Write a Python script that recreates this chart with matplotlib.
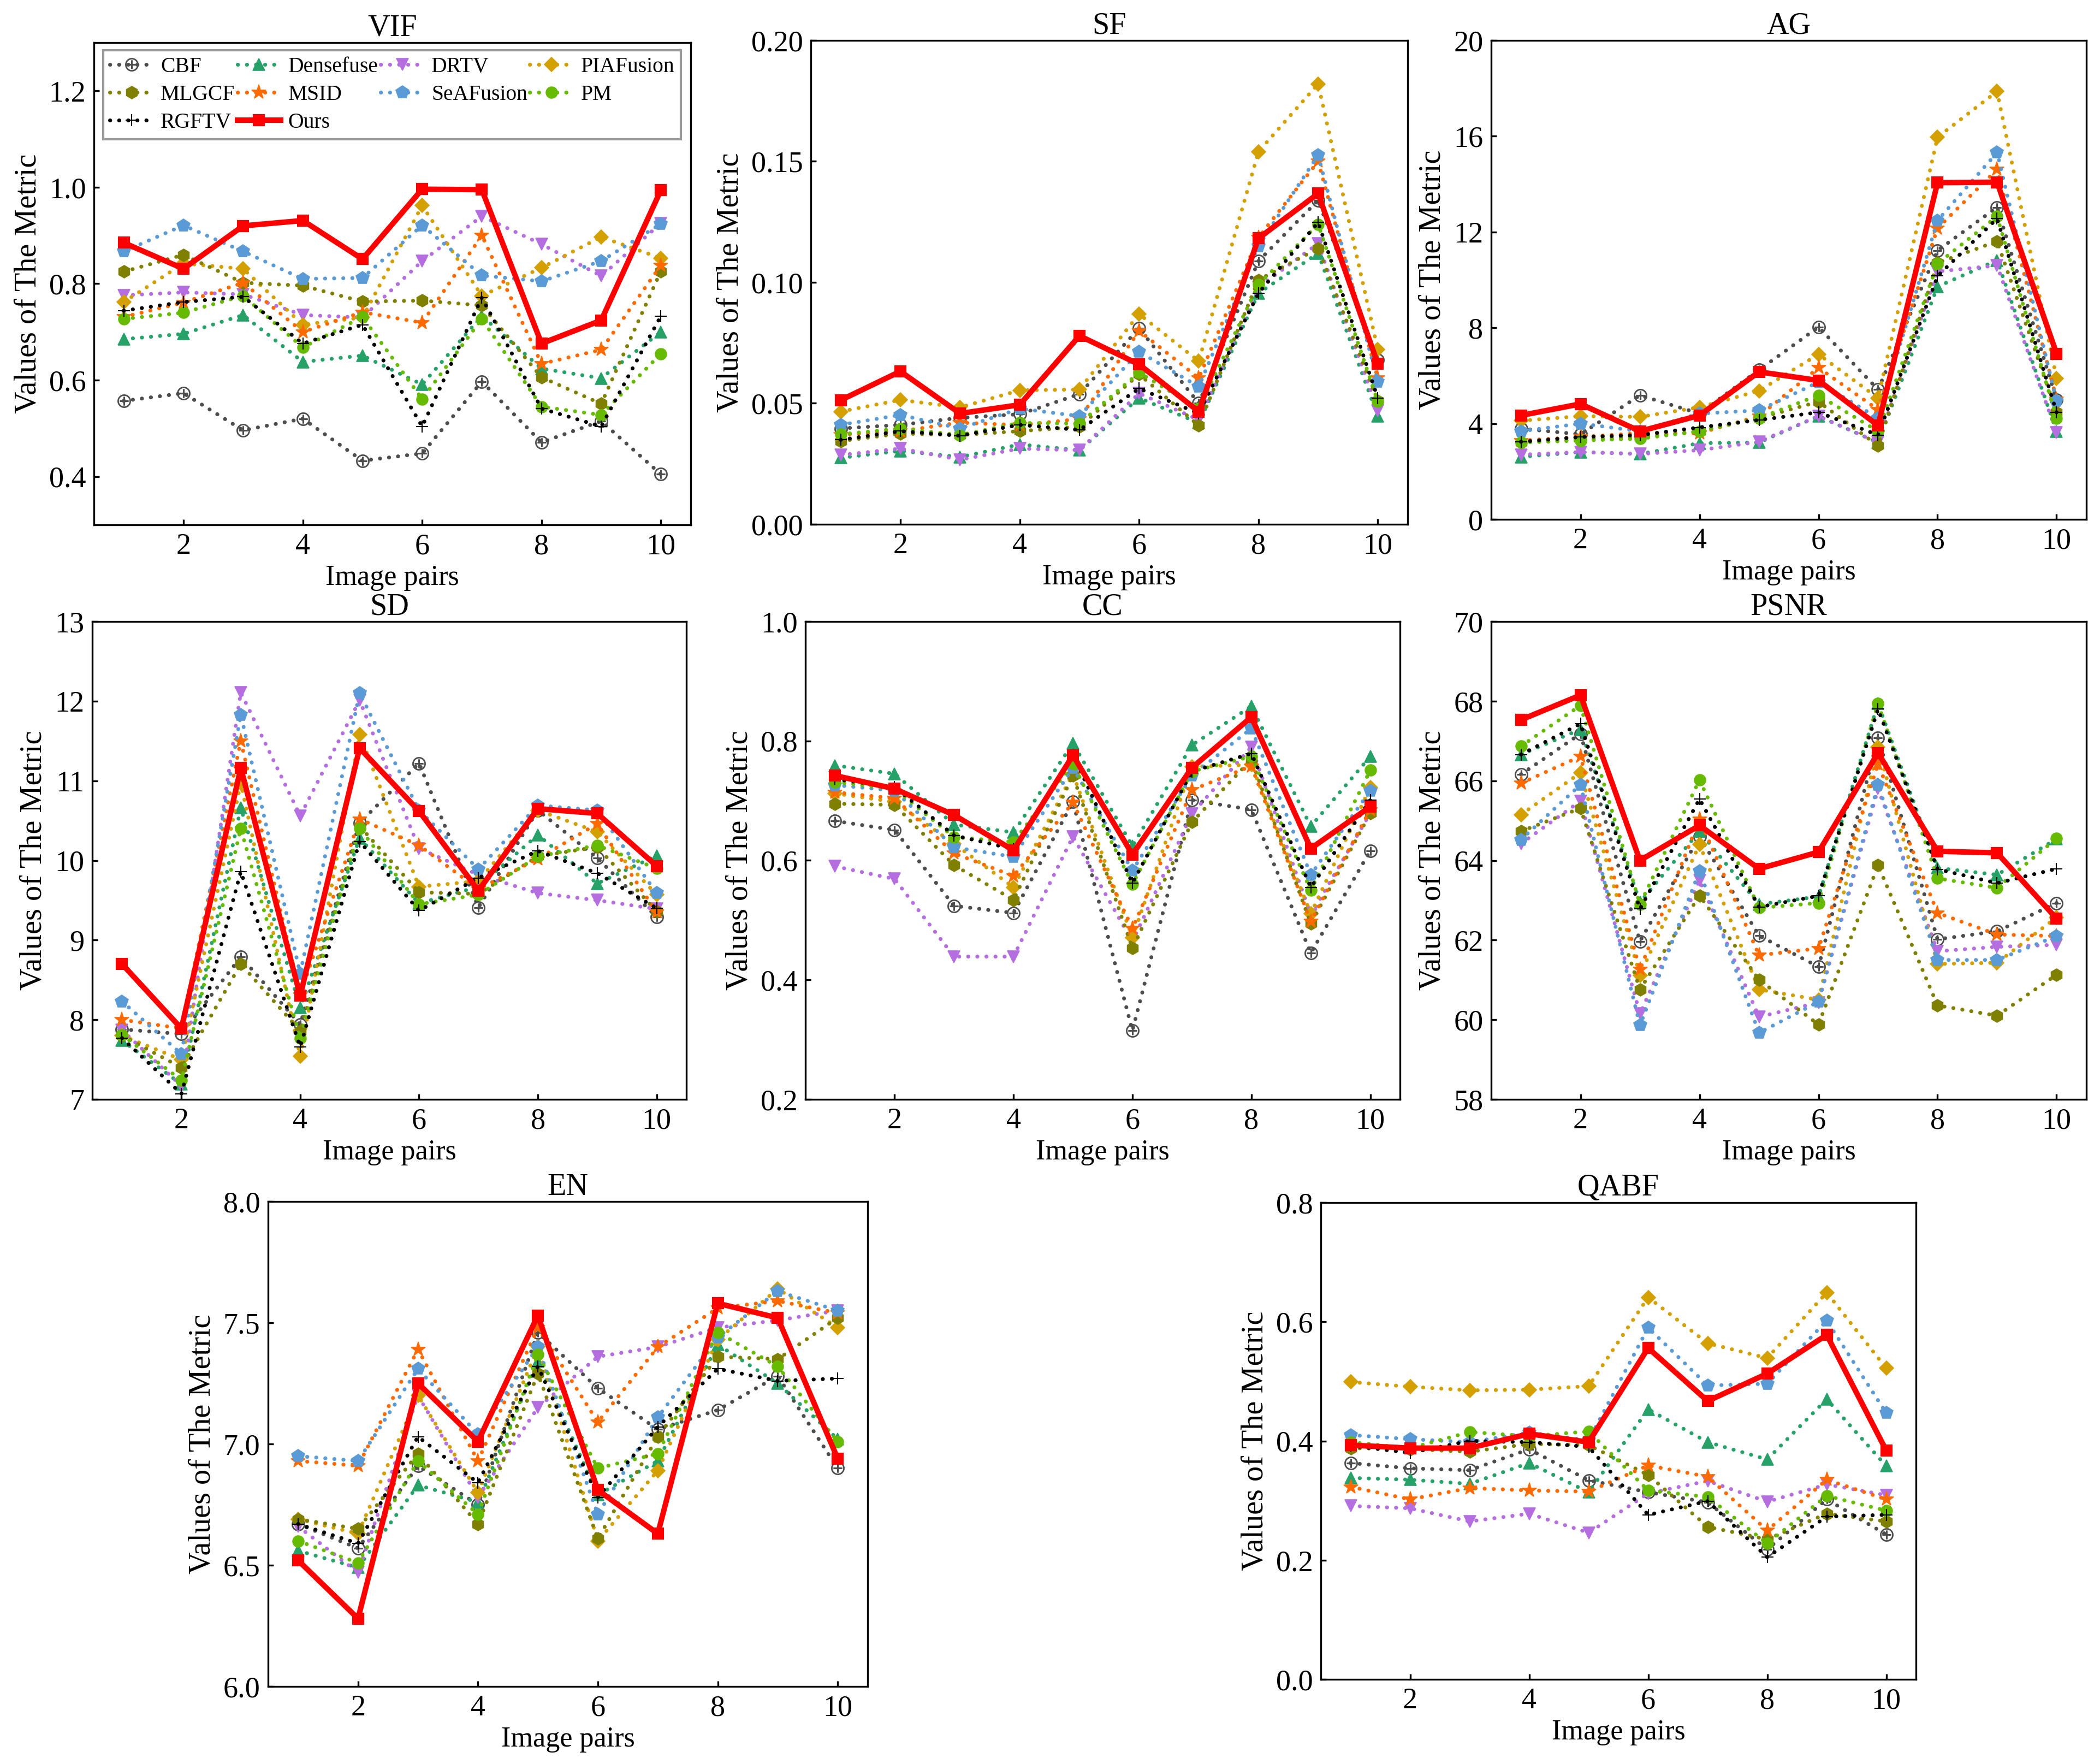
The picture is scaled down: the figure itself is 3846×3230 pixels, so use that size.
import matplotlib
matplotlib.use("Agg")
import matplotlib.pyplot as plt

plt.rcParams['font.family'] = ['Liberation Serif', 'DejaVu Serif']
plt.rcParams['mathtext.fontset'] = 'dejavusans'

# ---------------- data ---------------- #
pairs = [1, 2, 3, 4, 5, 6, 7, 8, 9, 10]
methods = ['CBF', 'Densefuse', 'DRTV', 'PIAFusion', 'MLGCF', 'MSID',
           'SeAFusion', 'PM', 'RGFTV', 'Ours']

vif = {
    'CBF':       [0.557, 0.573, 0.496, 0.520, 0.433, 0.448, 0.597, 0.471, 0.515, 0.405],
    'Densefuse': [0.685, 0.696, 0.735, 0.638, 0.651, 0.591, 0.733, 0.624, 0.604, 0.700],
    'DRTV':      [0.776, 0.782, 0.778, 0.735, 0.730, 0.847, 0.940, 0.882, 0.816, 0.925],
    'PIAFusion': [0.762, 0.842, 0.831, 0.715, 0.730, 0.962, 0.775, 0.833, 0.897, 0.853],
    'MLGCF':     [0.825, 0.860, 0.802, 0.796, 0.763, 0.765, 0.755, 0.606, 0.551, 0.826],
    'MSID':      [0.731, 0.761, 0.802, 0.700, 0.741, 0.719, 0.900, 0.634, 0.663, 0.838],
    'SeAFusion': [0.867, 0.921, 0.867, 0.810, 0.812, 0.921, 0.817, 0.805, 0.847, 0.924],
    'PM':        [0.727, 0.740, 0.775, 0.668, 0.731, 0.561, 0.727, 0.545, 0.528, 0.655],
    'RGFTV':     [0.744, 0.762, 0.773, 0.676, 0.715, 0.504, 0.771, 0.541, 0.504, 0.733],
    'Ours':      [0.885, 0.831, 0.920, 0.931, 0.851, 0.996, 0.995, 0.676, 0.724, 0.994],
}

sf = {
    'CBF':       [0.0396, 0.0411, 0.0440, 0.0455, 0.0538, 0.0810, 0.0500, 0.1088, 0.1339, 0.0680],
    'Densefuse': [0.0275, 0.0303, 0.0278, 0.0330, 0.0306, 0.0522, 0.0419, 0.0955, 0.1120, 0.0447],
    'DRTV':      [0.0286, 0.0313, 0.0267, 0.0313, 0.0306, 0.0541, 0.0432, 0.0980, 0.1160, 0.0470],
    'PIAFusion': [0.0466, 0.0514, 0.0483, 0.0554, 0.0557, 0.0869, 0.0674, 0.1540, 0.1820, 0.0722],
    'MLGCF':     [0.0344, 0.0375, 0.0369, 0.0385, 0.0403, 0.0620, 0.0408, 0.1010, 0.1140, 0.0510],
    'MSID':      [0.0370, 0.0385, 0.0420, 0.0410, 0.0435, 0.0800, 0.0604, 0.1185, 0.1500, 0.0604],
    'SeAFusion': [0.0411, 0.0452, 0.0396, 0.0478, 0.0447, 0.0713, 0.0569, 0.1150, 0.1526, 0.0590],
    'PM':        [0.0372, 0.0396, 0.0369, 0.0419, 0.0416, 0.0627, 0.0478, 0.0990, 0.1240, 0.0507],
    'RGFTV':     [0.0349, 0.0385, 0.0366, 0.0411, 0.0390, 0.0561, 0.0458, 0.0955, 0.1248, 0.0522],
    'Ours':      [0.0513, 0.0632, 0.0458, 0.0494, 0.0779, 0.0661, 0.0466, 0.1182, 0.1367, 0.0663],
}

ag = {
    'CBF':       [3.79, 3.55, 5.18, 4.42, 6.24, 8.03, 5.42, 11.23, 13.03, 5.00],
    'Densefuse': [2.61, 2.81, 2.73, 3.18, 3.21, 4.31, 3.21, 9.72, 10.82, 3.68],
    'DRTV':      [2.70, 2.81, 2.73, 2.89, 3.24, 4.31, 3.21, 10.35, 10.60, 3.63],
    'PIAFusion': [4.12, 4.31, 4.28, 4.68, 5.37, 6.89, 5.07, 15.96, 17.87, 5.89],
    'MLGCF':     [3.21, 3.33, 3.44, 3.68, 4.23, 4.91, 3.08, 10.71, 11.61, 4.47],
    'MSID':      [3.29, 3.44, 3.60, 3.60, 4.31, 6.33, 4.58, 12.16, 14.61, 5.02],
    'SeAFusion': [3.68, 4.00, 3.68, 4.42, 4.55, 5.73, 4.23, 12.48, 15.32, 4.94],
    'PM':        [3.21, 3.29, 3.37, 3.68, 4.23, 5.18, 3.68, 10.68, 12.65, 4.23],
    'RGFTV':     [3.24, 3.44, 3.52, 3.84, 4.15, 4.47, 3.52, 10.16, 12.56, 4.47],
    'Ours':      [4.34, 4.82, 3.68, 4.34, 6.16, 5.80, 3.92, 14.06, 14.08, 6.92],
}

sd = {
    'CBF':       [7.88, 7.82, 8.79, 7.94, 10.47, 11.22, 9.41, 10.63, 10.03, 9.29],
    'Densefuse': [7.74, 7.19, 10.66, 8.15, 10.28, 9.46, 9.67, 10.32, 9.71, 10.06],
    'DRTV':      [7.87, 7.17, 12.11, 10.56, 12.01, 10.15, 9.82, 9.59, 9.50, 9.39],
    'PIAFusion': [7.80, 7.50, 10.97, 7.54, 11.58, 9.67, 9.74, 10.63, 10.36, 9.57],
    'MLGCF':     [7.80, 7.40, 8.70, 7.86, 10.43, 9.60, 9.58, 10.05, 10.17, 9.36],
    'MSID':      [8.00, 7.89, 11.50, 8.31, 10.52, 10.19, 9.64, 10.02, 10.46, 9.35],
    'SeAFusion': [8.23, 7.57, 11.83, 8.58, 12.10, 10.63, 9.89, 10.69, 10.63, 9.59],
    'PM':        [7.81, 7.24, 10.40, 7.77, 10.40, 9.45, 9.57, 10.05, 10.19, 9.90],
    'RGFTV':     [7.77, 7.07, 9.86, 7.66, 10.24, 9.37, 9.78, 10.12, 9.84, 9.40],
    'Ours':      [8.70, 7.89, 11.16, 8.30, 11.41, 10.62, 9.62, 10.65, 10.59, 9.93],
}

cc = {
    'CBF':       [0.666, 0.651, 0.524, 0.512, 0.698, 0.315, 0.701, 0.685, 0.445, 0.616],
    'Densefuse': [0.759, 0.745, 0.660, 0.647, 0.796, 0.624, 0.793, 0.858, 0.657, 0.774],
    'DRTV':      [0.590, 0.569, 0.439, 0.439, 0.640, 0.464, 0.678, 0.790, 0.509, 0.679],
    'PIAFusion': [0.712, 0.698, 0.628, 0.555, 0.745, 0.471, 0.757, 0.760, 0.511, 0.722],
    'MLGCF':     [0.695, 0.693, 0.592, 0.534, 0.742, 0.453, 0.664, 0.769, 0.494, 0.679],
    'MSID':      [0.714, 0.704, 0.612, 0.574, 0.697, 0.486, 0.718, 0.758, 0.498, 0.685],
    'SeAFusion': [0.726, 0.717, 0.622, 0.606, 0.755, 0.583, 0.742, 0.821, 0.576, 0.717],
    'PM':        [0.731, 0.720, 0.639, 0.631, 0.762, 0.560, 0.749, 0.774, 0.550, 0.751],
    'RGFTV':     [0.736, 0.723, 0.642, 0.619, 0.777, 0.562, 0.749, 0.779, 0.555, 0.701],
    'Ours':      [0.742, 0.720, 0.676, 0.617, 0.776, 0.610, 0.755, 0.840, 0.620, 0.690],
}

psnr = {
    'CBF':       [66.16, 67.18, 61.97, 64.60, 62.11, 61.33, 67.08, 62.02, 62.22, 62.93],
    'Densefuse': [66.66, 67.29, 62.95, 64.73, 62.90, 63.09, 67.94, 63.81, 63.64, 64.54],
    'DRTV':      [64.42, 65.49, 60.15, 63.50, 60.07, 60.43, 65.80, 61.72, 61.83, 61.88],
    'PIAFusion': [65.15, 66.20, 61.12, 64.40, 60.76, 60.50, 66.85, 61.40, 61.43, 62.57],
    'MLGCF':     [64.73, 65.31, 60.76, 63.12, 61.00, 59.88, 63.88, 60.36, 60.10, 61.13],
    'MSID':      [65.94, 66.61, 61.26, 65.04, 61.62, 61.79, 66.42, 62.68, 62.14, 62.10],
    'SeAFusion': [64.52, 65.90, 59.86, 63.73, 59.67, 60.45, 65.90, 61.50, 61.50, 62.10],
    'PM':        [66.87, 67.89, 62.90, 66.02, 62.81, 62.93, 67.94, 63.55, 63.31, 64.55],
    'RGFTV':     [66.66, 67.43, 62.78, 65.54, 62.83, 63.11, 67.80, 63.78, 63.43, 63.79],
    'Ours':      [67.53, 68.15, 64.00, 64.88, 63.79, 64.21, 66.70, 64.23, 64.19, 62.54],
}

en = {
    'CBF':       [6.67, 6.57, 6.91, 6.75, 7.46, 7.23, 7.06, 7.14, 7.28, 6.90],
    'Densefuse': [6.56, 6.49, 6.83, 6.76, 7.34, 6.79, 6.93, 7.41, 7.25, 7.02],
    'DRTV':      [6.66, 6.47, 7.20, 6.78, 7.15, 7.36, 7.40, 7.48, 7.51, 7.55],
    'PIAFusion': [6.69, 6.63, 7.20, 6.80, 7.40, 6.60, 6.89, 7.43, 7.64, 7.48],
    'MLGCF':     [6.69, 6.65, 6.96, 6.67, 7.29, 6.61, 7.03, 7.36, 7.35, 7.52],
    'MSID':      [6.93, 6.91, 7.39, 6.93, 7.48, 7.09, 7.40, 7.56, 7.59, 7.54],
    'SeAFusion': [6.95, 6.93, 7.31, 7.04, 7.40, 6.71, 7.11, 7.44, 7.63, 7.55],
    'PM':        [6.60, 6.51, 6.93, 6.71, 7.37, 6.90, 6.96, 7.46, 7.32, 7.01],
    'RGFTV':     [6.67, 6.59, 7.03, 6.84, 7.32, 6.78, 7.07, 7.31, 7.26, 7.27],
    'Ours':      [6.52, 6.28, 7.25, 7.01, 7.53, 6.81, 6.63, 7.58, 7.52, 6.94],
}

qabf = {
    'CBF':       [0.363, 0.354, 0.351, 0.386, 0.334, 0.314, 0.297, 0.218, 0.302, 0.243],
    'Densefuse': [0.338, 0.335, 0.328, 0.363, 0.314, 0.453, 0.398, 0.369, 0.470, 0.358],
    'DRTV':      [0.291, 0.287, 0.265, 0.278, 0.246, 0.312, 0.333, 0.298, 0.327, 0.309],
    'PIAFusion': [0.499, 0.491, 0.485, 0.486, 0.492, 0.641, 0.564, 0.539, 0.649, 0.522],
    'MLGCF':     [0.388, 0.386, 0.382, 0.395, 0.393, 0.343, 0.256, 0.235, 0.278, 0.265],
    'MSID':      [0.323, 0.302, 0.321, 0.317, 0.315, 0.359, 0.340, 0.250, 0.335, 0.302],
    'SeAFusion': [0.410, 0.403, 0.398, 0.414, 0.401, 0.590, 0.493, 0.496, 0.602, 0.447],
    'PM':        [0.398, 0.388, 0.415, 0.408, 0.416, 0.317, 0.306, 0.228, 0.308, 0.283],
    'RGFTV':     [0.392, 0.380, 0.400, 0.398, 0.390, 0.276, 0.299, 0.205, 0.273, 0.276],
    'Ours':      [0.393, 0.388, 0.388, 0.412, 0.398, 0.556, 0.467, 0.513, 0.578, 0.384],
}

# ---------------- styles ---------------- #
colors = {
    'CBF': '#4d4d4d', 'Densefuse': '#26a269', 'DRTV': '#b56ee0',
    'PIAFusion': '#d4a000', 'MLGCF': '#808000', 'MSID': '#ff6a00',
    'SeAFusion': '#5b9bd5', 'PM': '#66bb00', 'RGFTV': '#000000',
    'Ours': '#ff0000',
}
markers = {
    'CBF': '$\\oplus$', 'Densefuse': '^', 'DRTV': 'v', 'PIAFusion': 'D',
    'MLGCF': 'h', 'MSID': '*', 'SeAFusion': 'p', 'PM': 'o', 'RGFTV': '+',
    'Ours': 's',
}
msizes = {
    'CBF': 6, 'Densefuse': 5.5, 'DRTV': 5.5, 'PIAFusion': 4.5,
    'MLGCF': 5.5, 'MSID': 6.5, 'SeAFusion': 6, 'PM': 5, 'RGFTV': 5.5,
    'Ours': 4.5,
}
medge = {'CBF': 0.0, 'RGFTV': 0.5}

# panels: (title, data, ylim, yticks, tick format, box in pixels x0, y0, x1, y1)
W, H = 3846, 3230
panels = [
    ('VIF', vif, (0.3, 1.3), [0.4, 0.6, 0.8, 1.0, 1.2], '%.1f', (172, 78, 1265, 961)),
    ('SF', sf, (0.0, 0.2), [0.0, 0.05, 0.10, 0.15, 0.20], '%.2f', (1485, 74, 2578, 960)),
    ('AG', ag, (0, 20), [0, 4, 8, 12, 16, 20], '%d', (2731, 74, 3821, 951)),
    ('SD', sd, (7, 13), [7, 8, 9, 10, 11, 12, 13], '%d', (169, 1138, 1257, 2013)),
    ('CC', cc, (0.2, 1.0), [0.2, 0.4, 0.6, 0.8, 1.0], '%.1f', (1475, 1138, 2564, 2013)),
    ('PSNR', psnr, (58, 70), [58, 60, 62, 64, 66, 68, 70], '%d', (2731, 1138, 3821, 2013)),
    ('EN', en, (6.0, 8.0), [6.0, 6.5, 7.0, 7.5, 8.0], '%.1f', (491, 2200, 1589, 3088)),
    ('QABF', qabf, (0.0, 0.8), [0.0, 0.2, 0.4, 0.6, 0.8], '%.1f', (2419, 2202, 3509, 3075)),
]

fig = plt.figure(figsize=(W / 300, H / 300), dpi=300)

for title, data, ylim, yticks, fmt, box in panels:
    x0, y0, x1, y1 = box
    ax = fig.add_axes([x0 / W, 1 - y1 / H, (x1 - x0) / W, (y1 - y0) / H])
    for m in methods:
        if m == 'Ours':
            ax.plot(pairs, data[m], color=colors[m], lw=2.4, marker='s',
                    markersize=msizes[m], label=m, zorder=5)
        else:
            ax.plot(pairs, data[m], color=colors[m], lw=1.7,
                    linestyle=(0, (0.05, 2.3)), dash_capstyle='round',
                    marker=markers[m], markersize=msizes[m],
                    markeredgewidth=medge.get(m, 0.4), label=m)
    ax.set_xlim(0.5, 10.5)
    ax.set_ylim(*ylim)
    ax.set_xticks([2, 4, 6, 8, 10])
    ax.set_yticks(yticks)
    ax.yaxis.set_major_formatter(plt.FormatStrFormatter(fmt))
    ax.tick_params(direction='in', length=2.5, width=0.8, labelsize=13)
    for s in ax.spines.values():
        s.set_linewidth(0.8)
    ax.set_title(title, fontsize=13.5, pad=3)
    ax.set_xlabel('Image pairs', fontsize=12.5, labelpad=2)
    ax.set_ylabel('Values of The Metric', fontsize=13.5, labelpad=3)

    if title == 'VIF':
        h, l = ax.get_legend_handles_labels()
        # column-major order so rows read CBF, Densefuse, DRTV, PIAFusion ...
        order = [0, 4, 8, 1, 5, 9, 2, 6, 3, 7]
        ax.legend([h[i] for i in order], [l[i] for i in order], ncol=4,
                  loc='upper left', bbox_to_anchor=(0.0156, 0.984, 0.968, 0.0),
                  mode='expand', borderaxespad=0, fontsize=9.5,
                  handlelength=2.0, handletextpad=0.35, columnspacing=0.2,
                  borderpad=0.3, labelspacing=0.35, fancybox=False,
                  edgecolor='#999999', framealpha=1)

fig.savefig('out.png', dpi=300)
